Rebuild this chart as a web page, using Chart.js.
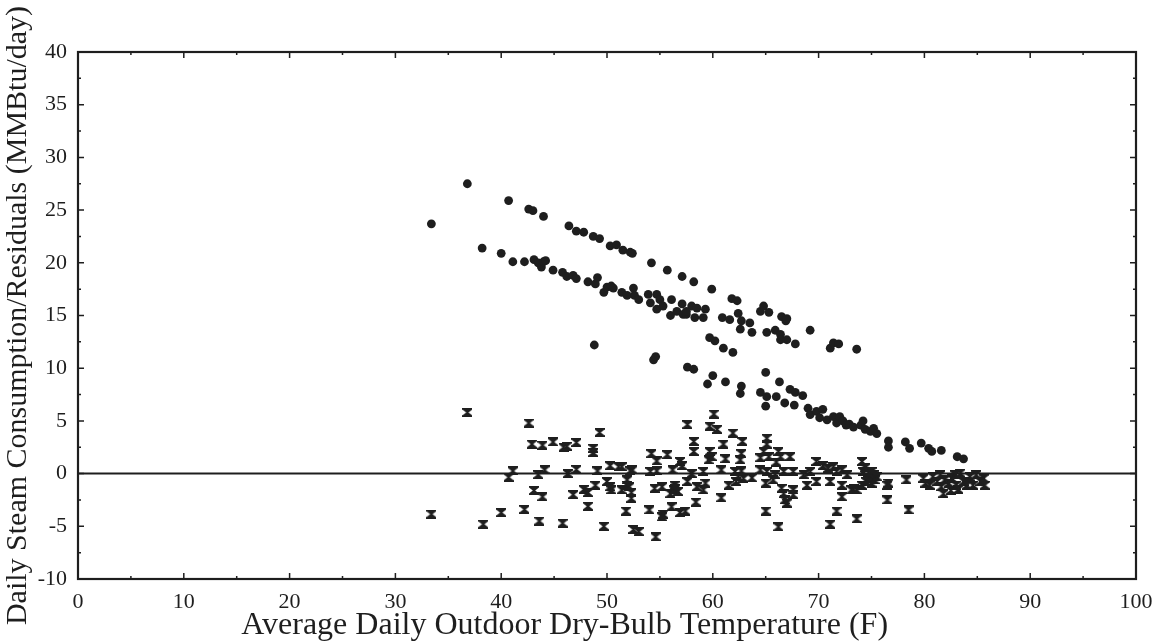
<!DOCTYPE html>
<html>
<head>
<meta charset="utf-8">
<script src="https://cdn.jsdelivr.net/npm/chart.js@4/dist/chart.umd.min.js"></script>
<style>
  html, body { margin: 0; padding: 0; background: #fff; }
  #wrap { width: 1165px; height: 644px; }
</style>
</head>
<body>
<div id="wrap"><canvas id="steamChart" width="1165" height="644"></canvas></div>
<script>
// daily steam use vs. outdoor temperature (filled dots)
const steamTemps = [
  33.4, 36.8, 38.2, 40.0, 40.7, 41.1, 42.2, 42.6, 43.0, 43.1, 43.5, 43.8, 44.0, 44.0, 44.2, 44.9,
  45.8, 46.2, 46.4, 46.8, 47.1, 47.1, 47.8, 48.2, 48.7, 48.8, 48.9, 49.1, 49.3, 49.7, 50.0, 50.3,
  50.4, 50.6, 50.9, 51.4, 51.5, 51.9, 52.2, 52.4, 52.5, 52.6, 53.0, 53.9, 54.1, 54.2, 54.4, 54.6,
  54.7, 54.7, 55.0, 55.3, 55.7, 56.0, 56.1, 56.6, 57.1, 57.1, 57.2, 57.5, 57.6, 58.2, 57.5, 58.0,
  58.2, 58.3, 58.5, 59.1, 59.3, 59.5, 59.7, 59.9, 60.0, 60.2, 60.9, 61.0, 61.2, 61.6, 61.8, 61.9,
  62.3, 62.4, 62.6, 62.6, 62.7, 62.7, 63.5, 63.7, 64.5, 64.5, 64.8, 65.0, 65.0, 65.1, 65.1, 65.3,
  65.9, 66.0, 66.3, 66.4, 66.4, 66.5, 66.8, 66.9, 67.0, 67.0, 67.3, 67.7, 67.8, 67.8, 68.5, 69.0,
  69.2, 69.2, 69.8, 70.1, 70.4, 70.8, 71.1, 71.4, 71.4, 71.7, 71.9, 72.0, 72.3, 72.6, 72.9, 73.3,
  73.6, 74.0, 74.2, 74.4, 74.9, 75.2, 75.5, 76.6, 76.6, 78.2, 78.6, 79.7, 80.4, 80.7, 81.6, 83.1,
  83.7
];
const steamLoads = [
  23.7, 27.5, 21.4, 20.9, 25.9, 20.1, 20.1, 25.1, 24.95, 20.3, 20.0, 19.6, 24.4, 20.1, 20.2, 19.3,
  19.1, 18.7, 23.5, 18.8, 23.0, 18.5, 22.9, 18.2, 22.5, 12.2, 18.0, 18.6, 22.3, 17.2, 17.7, 21.6,
  17.8, 17.6, 21.7, 17.2, 21.2, 16.9, 21.0, 20.9, 17.6, 16.9, 16.5, 17.0, 16.2, 20.0, 10.8, 11.1,
  17.0, 15.6, 16.5, 15.9, 19.3, 15.0, 16.5, 15.4, 16.1, 18.7, 15.1, 15.1, 10.1, 9.9, 15.4, 15.9,
  18.2, 14.8, 15.7, 14.8, 15.6, 8.5, 12.9, 17.5, 9.3, 12.6, 14.8, 11.9, 8.7, 14.6, 16.6, 11.5,
  16.4, 15.2, 13.7, 7.6, 14.5, 8.3, 14.3, 13.4, 15.4, 7.7, 15.9, 9.6, 6.4, 13.4, 7.3, 15.3,
  13.6, 7.3, 8.7, 13.2, 12.7, 14.9, 6.7, 14.5, 14.7, 12.7, 8.0, 6.5, 12.3, 7.7, 7.4, 6.2,
  13.6, 5.6, 5.9, 5.3, 6.1, 5.1, 11.9, 12.4, 5.4, 4.8, 12.3, 5.4, 5.0, 4.6, 4.7, 4.4,
  11.8, 4.6, 5.0, 4.2, 4.0, 4.3, 3.8, 3.1, 2.5, 3.0, 2.4, 2.9, 2.4, 2.1, 2.2, 1.6,
  1.4
];

// model residuals (hourglass markers)
const residTemps = [
  33.4, 36.8, 38.3, 40.0, 40.7, 41.1, 42.2, 42.6, 42.9, 43.1, 43.5, 43.6, 43.9, 43.9, 44.1, 44.9,
  45.8, 45.9, 46.2, 46.3, 46.8, 47.1, 47.1, 47.8, 48.2, 48.2, 48.7, 48.7, 48.9, 49.1, 49.3, 49.7,
  50.0, 50.3, 50.3, 50.4, 51.1, 51.4, 51.4, 51.8, 51.9, 51.9, 52.1, 52.2, 52.3, 52.3, 52.4, 52.5,
  53.0, 54.0, 54.1, 54.2, 54.5, 54.6, 54.7, 54.7, 55.2, 55.2, 55.3, 55.7, 56.0, 56.1, 56.2, 56.3,
  56.4, 56.4, 56.7, 56.9, 56.9, 57.1, 57.4, 57.6, 57.6, 58.0, 58.2, 58.2, 58.4, 58.5, 59.1, 59.1,
  59.3, 59.6, 59.7, 59.7, 59.9, 60.1, 60.4, 60.8, 60.8, 61.0, 61.2, 61.5, 61.9, 62.1, 62.2, 62.4,
  62.6, 62.7, 62.7, 62.8, 62.9, 63.7, 64.5, 64.5, 64.8, 65.0, 65.0, 65.1, 65.1, 65.1, 65.3, 65.7,
  65.9, 66.0, 66.2, 66.2, 66.4, 66.5, 66.7, 66.7, 66.8, 67.0, 67.3, 67.6, 67.6, 67.6, 68.6, 68.9,
  69.2, 69.8, 69.8, 70.4, 70.9, 71.1, 71.1, 71.4, 71.7, 71.7, 72.2, 72.2, 72.2, 72.7, 73.1, 73.3,
  73.6, 73.6, 74.1, 74.1, 74.2, 74.4, 74.5, 74.7, 74.9, 75.0, 75.0, 75.2, 75.3, 75.5, 76.5, 76.5,
  76.6, 78.3, 78.5, 79.9, 80.1, 80.5, 80.8, 81.2, 81.5, 81.6, 81.8, 81.9, 82.3, 82.5, 82.6, 82.9,
  83.0, 83.2, 83.4, 83.7, 84.0, 84.3, 84.6, 84.9, 85.3, 85.6, 85.7
];
const residValues = [
  -3.85, 5.8, -4.8, -3.7, -0.35, 0.25, -3.4, 4.8, 2.8, -1.6, -0.1, -4.5, 2.7, -2.2, 0.35, 3.0,
  -4.7, 2.5, 2.6, 0.0, -2.0, 2.95, 0.4, -1.5, -1.8, -3.1, 2.4, 2.0, -1.1, 0.25, 3.9, -5.0,
  -0.75, 0.75, -1.25, -1.55, 0.65, 0.65, -1.55, -3.55, -1.1, -0.6, -1.25, 0.25, -1.8, -2.35, 0.35, -5.3,
  -5.5, -3.45, 0.2, 1.9, -1.4, -6.0, 1.2, 0.25, -1.25, -4.1, -3.85, 1.8, -1.9, -3.15, 0.35, -1.55,
  -1.1, -1.45, -1.7, 1.15, -3.7, 0.75, -3.55, 4.65, -0.75, 0.0, 3.05, 2.1, -2.7, -1.25, 0.2, -1.55,
  -0.9, 1.3, 4.5, 2.1, 1.6, 5.65, 4.2, 0.35, -2.3, 2.8, 1.4, -1.1, 3.85, 0.2, -0.75, -0.3,
  1.3, 1.9, 0.25, 3.05, -0.45, -0.4, 1.5, 0.35, 2.1, -0.9, -3.55, 3.35, 2.8, 0.2, 1.6, -0.6,
  -0.1, 1.1, 2.1, -5.05, 1.6, -1.4, 0.2, -1.9, -2.5, -2.8, 1.6, 0.2, -1.55, -2.0, -0.1, -1.1,
  0.2, 1.15, -0.75, 0.75, 0.5, -0.75, -4.8, 0.65, 0.2, -3.55, 0.35, -1.1, -2.2, -0.1, -1.55, -1.45,
  -1.55, -4.3, 1.15, -1.1, 0.2, 0.55, -0.75, 0.1, -0.45, 0.2, -0.9, -0.1, -0.6, -0.3, -1.1, -2.5,
  -0.9, -0.6, -3.45, -0.45, -0.9, -1.1, -0.3, -0.75, -0.1, -1.25, -1.9, -0.6, -0.9, -1.6, -0.45, -0.1,
  -1.1, -1.5, 0.05, -0.75, -1.1, -0.3, -1.1, -0.1, -0.75, -0.45, -1.1
];

const xTicks = [0, 10, 20, 30, 40, 50, 60, 70, 80, 90, 100];
const yTicks = [-10, -5, 0, 5, 10, 15, 20, 25, 30, 35, 40];
const xTitle = 'Average Daily Outdoor Dry-Bulb Temperature (F)';

const ink = '#1e1e1e';
const serif = "'Liberation Serif', 'DejaVu Serif', serif";

// hourglass marker sprite
function hourglass(w, h) {
  const c = document.createElement('canvas');
  c.width = w; c.height = h;
  const g = c.getContext('2d');
  const b = h * 0.18, mx = w / 2, my = h / 2, n = w * 0.12;
  g.fillStyle = ink;
  g.beginPath();
  g.moveTo(0, 0); g.lineTo(w, 0); g.lineTo(w, b);
  g.lineTo(mx + n, my); g.lineTo(w, h - b); g.lineTo(w, h);
  g.lineTo(0, h); g.lineTo(0, h - b); g.lineTo(mx - n, my);
  g.lineTo(0, b); g.closePath();
  g.fill();
  return c;
}

// frame, inward major/minor ticks on all four sides, and the x-axis caption
const frameTicks = {
  id: 'frameTicks',
  afterDatasetsDraw(chart) {
    const { ctx, chartArea: a, scales: { x, y } } = chart;
    ctx.save();
    ctx.strokeStyle = ink;
    ctx.lineWidth = 1.5;
    ctx.beginPath();
    for (let v = 0; v <= 100; v += 5) {
      const px = x.getPixelForValue(v);
      const len = v % 10 === 0 ? 6 : 3;
      ctx.moveTo(px, a.bottom); ctx.lineTo(px, a.bottom - len);
      ctx.moveTo(px, a.top); ctx.lineTo(px, a.top + len);
    }
    for (let v = -10; v <= 40; v += 2.5) {
      const py = y.getPixelForValue(v);
      const len = v % 5 === 0 ? 6 : 3;
      ctx.moveTo(a.left, py); ctx.lineTo(a.left + len, py);
      ctx.moveTo(a.right, py); ctx.lineTo(a.right - len, py);
    }
    ctx.stroke();
    ctx.lineWidth = 2.2;
    ctx.strokeRect(a.left, a.top, a.right - a.left, a.bottom - a.top);

    ctx.fillStyle = ink;
    ctx.font = '32px ' + serif;
    ctx.textAlign = 'center';
    ctx.textBaseline = 'alphabetic';
    ctx.fillText(xTitle, x.getPixelForValue(46.0), chart.height - 10);
    ctx.restore();
  }
};

new Chart(document.getElementById('steamChart').getContext('2d'), {
  type: 'scatter',
  data: {
    datasets: [
      {
        label: 'Zero',
        type: 'line',
        data: [{ x: 0, y: 0 }, { x: 100, y: 0 }],
        borderColor: ink,
        borderWidth: 2,
        pointRadius: 0,
        order: 3
      },
      {
        label: 'Residuals',
        data: residTemps.map((t, i) => ({ x: t, y: residValues[i] })),
        pointStyle: hourglass(10, 9),
        order: 2
      },
      {
        label: 'Steam',
        data: steamTemps.map((t, i) => ({ x: t, y: steamLoads[i] })),
        pointStyle: 'circle',
        pointRadius: 4.4,
        backgroundColor: ink,
        borderWidth: 0,
        order: 1
      }
    ]
  },
  options: {
    responsive: false,
    animation: false,
    layout: { padding: { top: 52, right: 29, left: 0, bottom: 0 } },
    plugins: { legend: { display: false }, tooltip: { enabled: false } },
    scales: {
      x: {
        type: 'linear',
        min: 0, max: 100,
        afterFit: s => { s.height = 65; },
        afterBuildTicks: s => { s.ticks = xTicks.map(v => ({ value: v })); },
        grid: { display: false },
        border: { display: false },
        ticks: { color: ink, padding: 2, maxRotation: 0, font: { family: serif, size: 22 } }
      },
      y: {
        type: 'linear',
        min: -10, max: 40,
        afterFit: s => { s.width = 78; },
        afterBuildTicks: s => { s.ticks = yTicks.map(v => ({ value: v })); },
        grid: { display: false },
        border: { display: false },
        ticks: { color: ink, padding: 3, font: { family: serif, size: 22 } },
        title: {
          display: true,
          text: 'Daily Steam Consumption/Residuals (MMBtu/day)',
          color: ink,
          font: { family: serif, size: 30 },
          padding: { top: 0, bottom: 0 }
        }
      }
    }
  },
  plugins: [frameTicks]
});
</script>
</body>
</html>
